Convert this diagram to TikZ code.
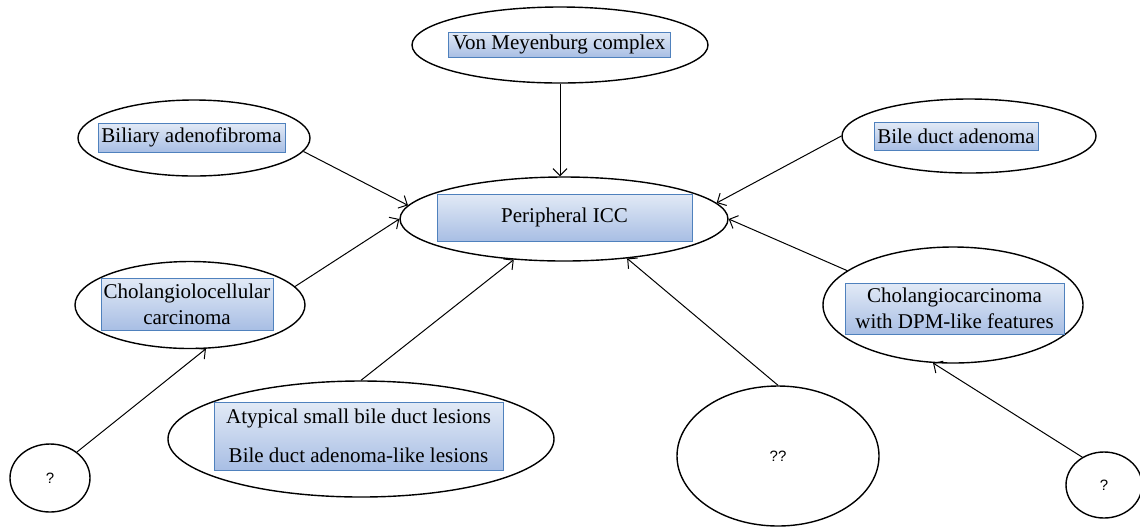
\documentclass[tikz,border=0pt]{standalone}
\usepackage{fontspec}
\setmainfont{Liberation Serif}
\newfontfamily\qfont{Liberation Sans}
\usetikzlibrary{positioning, arrows.meta, shapes.geometric}

\definecolor{boxedge}{RGB}{79,129,189}
\definecolor{boxtop}{RGB}{226,234,246}
\definecolor{boxbot}{RGB}{168,190,228}

\begin{document}
\begin{tikzpicture}[
    x=0.5pt, y=-0.5pt,
    oval/.style={ellipse, draw, line width=0.7pt, inner sep=0pt},
    box/.style={rectangle, draw=boxedge, line width=0.5pt,
                top color=boxtop, bottom color=boxbot,
                inner sep=0pt, align=center, font=\fontsize{10.5}{13}\selectfont},
    qmark/.style={font=\qfont\fontsize{7.5}{9}\selectfont},
    arr/.style={-{Straight Barb[length=3.5pt, width=7pt]}, line width=0.5pt}
]
\useasboundingbox (0,0) rectangle (1140,527);

% outer ellipses
\node[oval, minimum width=148pt, minimum height=38pt] (vmc) at (560,45) {};
\node[oval, minimum width=164pt, minimum height=42pt] (icc) at (564,219) {};
\node[oval, minimum width=116pt, minimum height=38pt] (bil) at (194,138) {};
\node[oval, minimum width=127pt, minimum height=37pt] (bda) at (969,136) {};
\node[oval, minimum width=115pt, minimum height=43.5pt] (chl) at (190,305) {};
\node[oval, minimum width=130pt, minimum height=58pt] (dpm) at (953,305) {};
\node[oval, minimum width=193pt, minimum height=58pt] (aty) at (361,439) {};
\node[oval, minimum width=101pt, minimum height=70pt, qmark] (unk) at (778,456) {??};
\node[oval, minimum width=40pt, minimum height=34pt, qmark] (qleft) at (50,478) {?};
\node[oval, minimum width=38pt, minimum height=33pt, qmark] (qright) at (1104,485) {?};

% labelled boxes
\node[box, minimum width=111pt, minimum height=12.5pt] (vmc-box) at (559,44.5) {Von Meyenburg complex};
\node[box, minimum width=127.5pt, minimum height=23.5pt] (icc-box) at (564.5,217.5) {Peripheral ICC};
\node[box, minimum width=93.5pt, minimum height=14.5pt] (bil-box) at (191.5,137.5) {Biliary adenofibroma};
\node[box, minimum width=82pt, minimum height=14pt] (bda-box) at (956,136) {Bile duct adenoma};
\node[box, minimum width=86pt, minimum height=26pt] (chl-box) at (187,304) {Cholangiolocellular\\carcinoma};
\node[box, minimum width=109.5pt, minimum height=25.5pt] (dpm-box) at (954.5,308.5) {Cholangiocarcinoma\\with DPM-like features};
\node[box, minimum width=144.5pt, minimum height=34pt] (aty-box) at (358.5,436) {Atypical small bile duct lesions\\[6.5pt]Bile duct adenoma-like lesions};

% arrows into peripheral ICC
\draw[arr] (vmc.south) -- (vmc.south |- icc.north);
\draw[arr] (bil.-7) -- (icc.175);
\draw[arr] (bda.180) -- (icc.6);
\draw[arr] (chl.10.5) -- (icc.west);
\draw[arr] (dpm.162) -- (icc.east);
\draw[arr] (aty.north) -- (icc.219);
\draw[arr] (unk.north) -- (icc.-32.5);
% unknown origins
\draw[arr] (qleft.44) -- (chl.-70);
\draw[arr] (qright.128) -- (dpm.251);
\end{tikzpicture}
\end{document}
